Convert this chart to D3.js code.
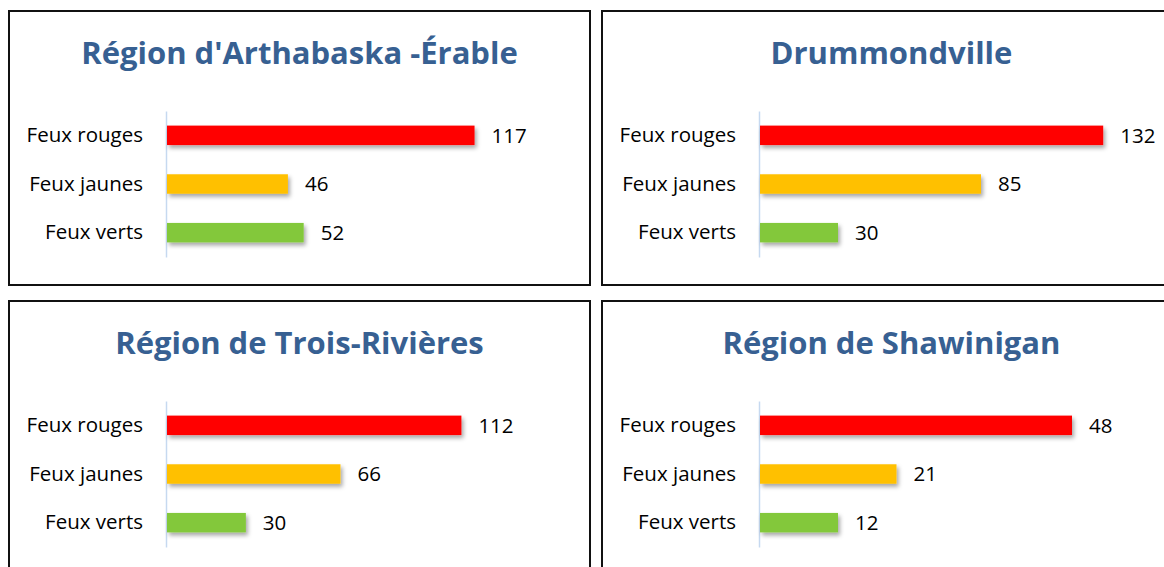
<!DOCTYPE html>
<html>
<head>
<meta charset="utf-8">
<script src="https://cdn.jsdelivr.net/npm/d3@7"></script>
<style>
  html, body { margin: 0; padding: 0; background: #fff; }
  svg { display: block; }
</style>
</head>
<body>
<svg id="chart" width="1164" height="567"></svg>
<script>
// ---- data ----
const titles = ["Région d'Arthabaska -Érable", "Drummondville", "Région de Trois-Rivières", "Région de Shawinigan"];
const categories = ["Feux rouges", "Feux jaunes", "Feux verts"];
const arthabaskaValues = [117, 46, 52];
const drummondvilleValues = [132, 85, 30];
const troisRivieresValues = [112, 66, 30];
const shawiniganValues = [48, 21, 12];
const axisMax = [140, 140, 140, 56];
const barColors = ["#FF0000", "#FFC000", "#83C83A"];

const seriesList = [arthabaskaValues, drummondvilleValues, troisRivieresValues, shawiniganValues];

// ---- layout ----
const panelPos = [
  {x: 9, y: 11, w: 581, h: 274, plotW: 368},
  {x: 602, y: 11, w: 579, h: 274, plotW: 364},
  {x: 9, y: 301, w: 581, h: 274, plotW: 368},
  {x: 602, y: 301, w: 579, h: 274, plotW: 364}
];
const axisOffset = 157;
const labelFont = "'Open Sans', 'Noto Sans', sans-serif";

const svg = d3.select("#chart");
const defs = svg.append("defs");
const f = defs.append("filter").attr("id", "shadow")
  .attr("x", "-10%").attr("y", "-50%").attr("width", "130%").attr("height", "220%");
f.append("feDropShadow").attr("dx", 2).attr("dy", 3).attr("stdDeviation", 2)
  .attr("flood-color", "#000").attr("flood-opacity", 0.35);

seriesList.forEach((vals, i) => {
  const p = panelPos[i];
  const g = svg.append("g").attr("transform", `translate(${p.x},${p.y})`);

  g.append("rect").attr("x", 0).attr("y", 0).attr("width", p.w).attr("height", p.h)
    .attr("fill", "#fff").attr("stroke", "#111").attr("stroke-width", 2);

  g.append("text").attr("x", p.w / 2).attr("y", 53)
    .attr("text-anchor", "middle")
    .attr("font-family", labelFont).attr("font-weight", "bold")
    .attr("font-size", 31).attr("fill", "#376092")
    .text(titles[i]);

  const y = d3.scaleBand().domain(categories).range([100, 246]).paddingInner(0.6).paddingOuter(0.3);
  const x = d3.scaleLinear().domain([0, axisMax[i]]).range([axisOffset + 1, axisOffset + 1 + p.plotW]);

  // category axis
  const yAxis = d3.axisLeft(y).tickSize(0).tickPadding(23);
  const ax = g.append("g").attr("transform", `translate(${axisOffset},0)`).call(yAxis);
  ax.select(".domain").attr("stroke", "#C6D9F0").attr("stroke-width", 1.5);
  ax.selectAll("text").attr("font-family", labelFont).attr("font-size", 20.5).attr("fill", "#000");

  g.selectAll("rect.bar").data(vals).enter().append("rect").attr("class", "bar")
    .attr("x", x(0))
    .attr("y", (d, j) => y(categories[j]))
    .attr("width", d => x(d) - x(0))
    .attr("height", y.bandwidth())
    .attr("fill", (d, j) => barColors[j])
    .attr("filter", "url(#shadow)");

  g.selectAll("text.val").data(vals).enter().append("text").attr("class", "val")
    .attr("x", d => x(d) + 17)
    .attr("y", (d, j) => y(categories[j]) + y.bandwidth() / 2)
    .attr("dy", "0.35em")
    .attr("font-family", labelFont).attr("font-size", 20.5).attr("fill", "#000")
    .text(d => d);
});
</script>
</body>
</html>
